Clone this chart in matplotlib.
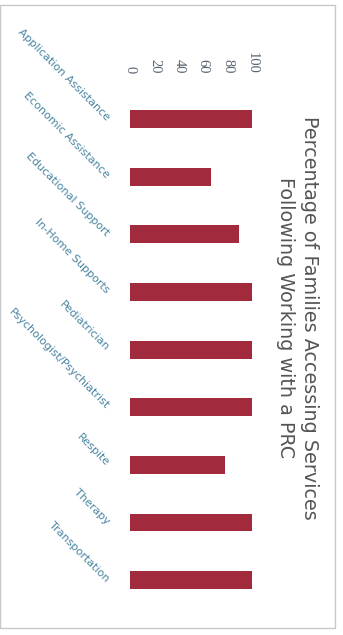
import matplotlib
matplotlib.use("Agg")
import matplotlib.pyplot as plt
from matplotlib.patches import Rectangle

services = ['Application Assistance', 'Economic Assistance', 'Educational Support',
            'In-Home Supports', 'Pediatrician', 'Psychologist/Psychiatrist',
            'Respite', 'Therapy', 'Transportation']
percent = [100, 66, 89, 100, 100, 100, 78, 100, 100]
ticks = [0, 20, 40, 60, 80, 100]
title = 'Percentage of Families Accessing Services\nFollowing Working with a PRC'

bar_color = '#a22a3d'
label_color = '#4a86a3'

fig = plt.figure(figsize=(3.43, 6.35), dpi=100)
ax = fig.add_axes([0.379, 0.041, 0.356, 0.817])

ax.barh(range(len(services)), percent, height=0.31, color=bar_color)
ax.set_xlim(0, 100)
ax.set_ylim(len(services) - 0.5, -0.5)

# value axis along the top, labels rotated
ax.xaxis.tick_top()
ax.set_xticks(ticks)
ax.set_xticklabels([str(t) for t in ticks], rotation=-90, fontsize=10.5,
                   family='Liberation Serif', color='#5a6572')
ax.tick_params(axis='x', length=0, pad=12)

ax.set_yticks(range(len(services)))
ax.set_yticklabels(services, rotation=-45, ha='right', va='center',
                   rotation_mode='anchor', fontsize=8, color=label_color)
ax.tick_params(axis='y', length=0, pad=16)

for s in ax.spines.values():
    s.set_visible(False)

fig.text(0.868, 0.50, title, rotation=-90, ha='center', va='center',
         multialignment='center', fontsize=13.8, color='#555555', linespacing=1.3)

# scanned chart frame
fig.patches.append(Rectangle((0.0, 0.011), 0.977, 0.981, transform=fig.transFigure,
                             fill=False, edgecolor='#c8c8c8', linewidth=1))

fig.savefig('out.png', dpi=100)
